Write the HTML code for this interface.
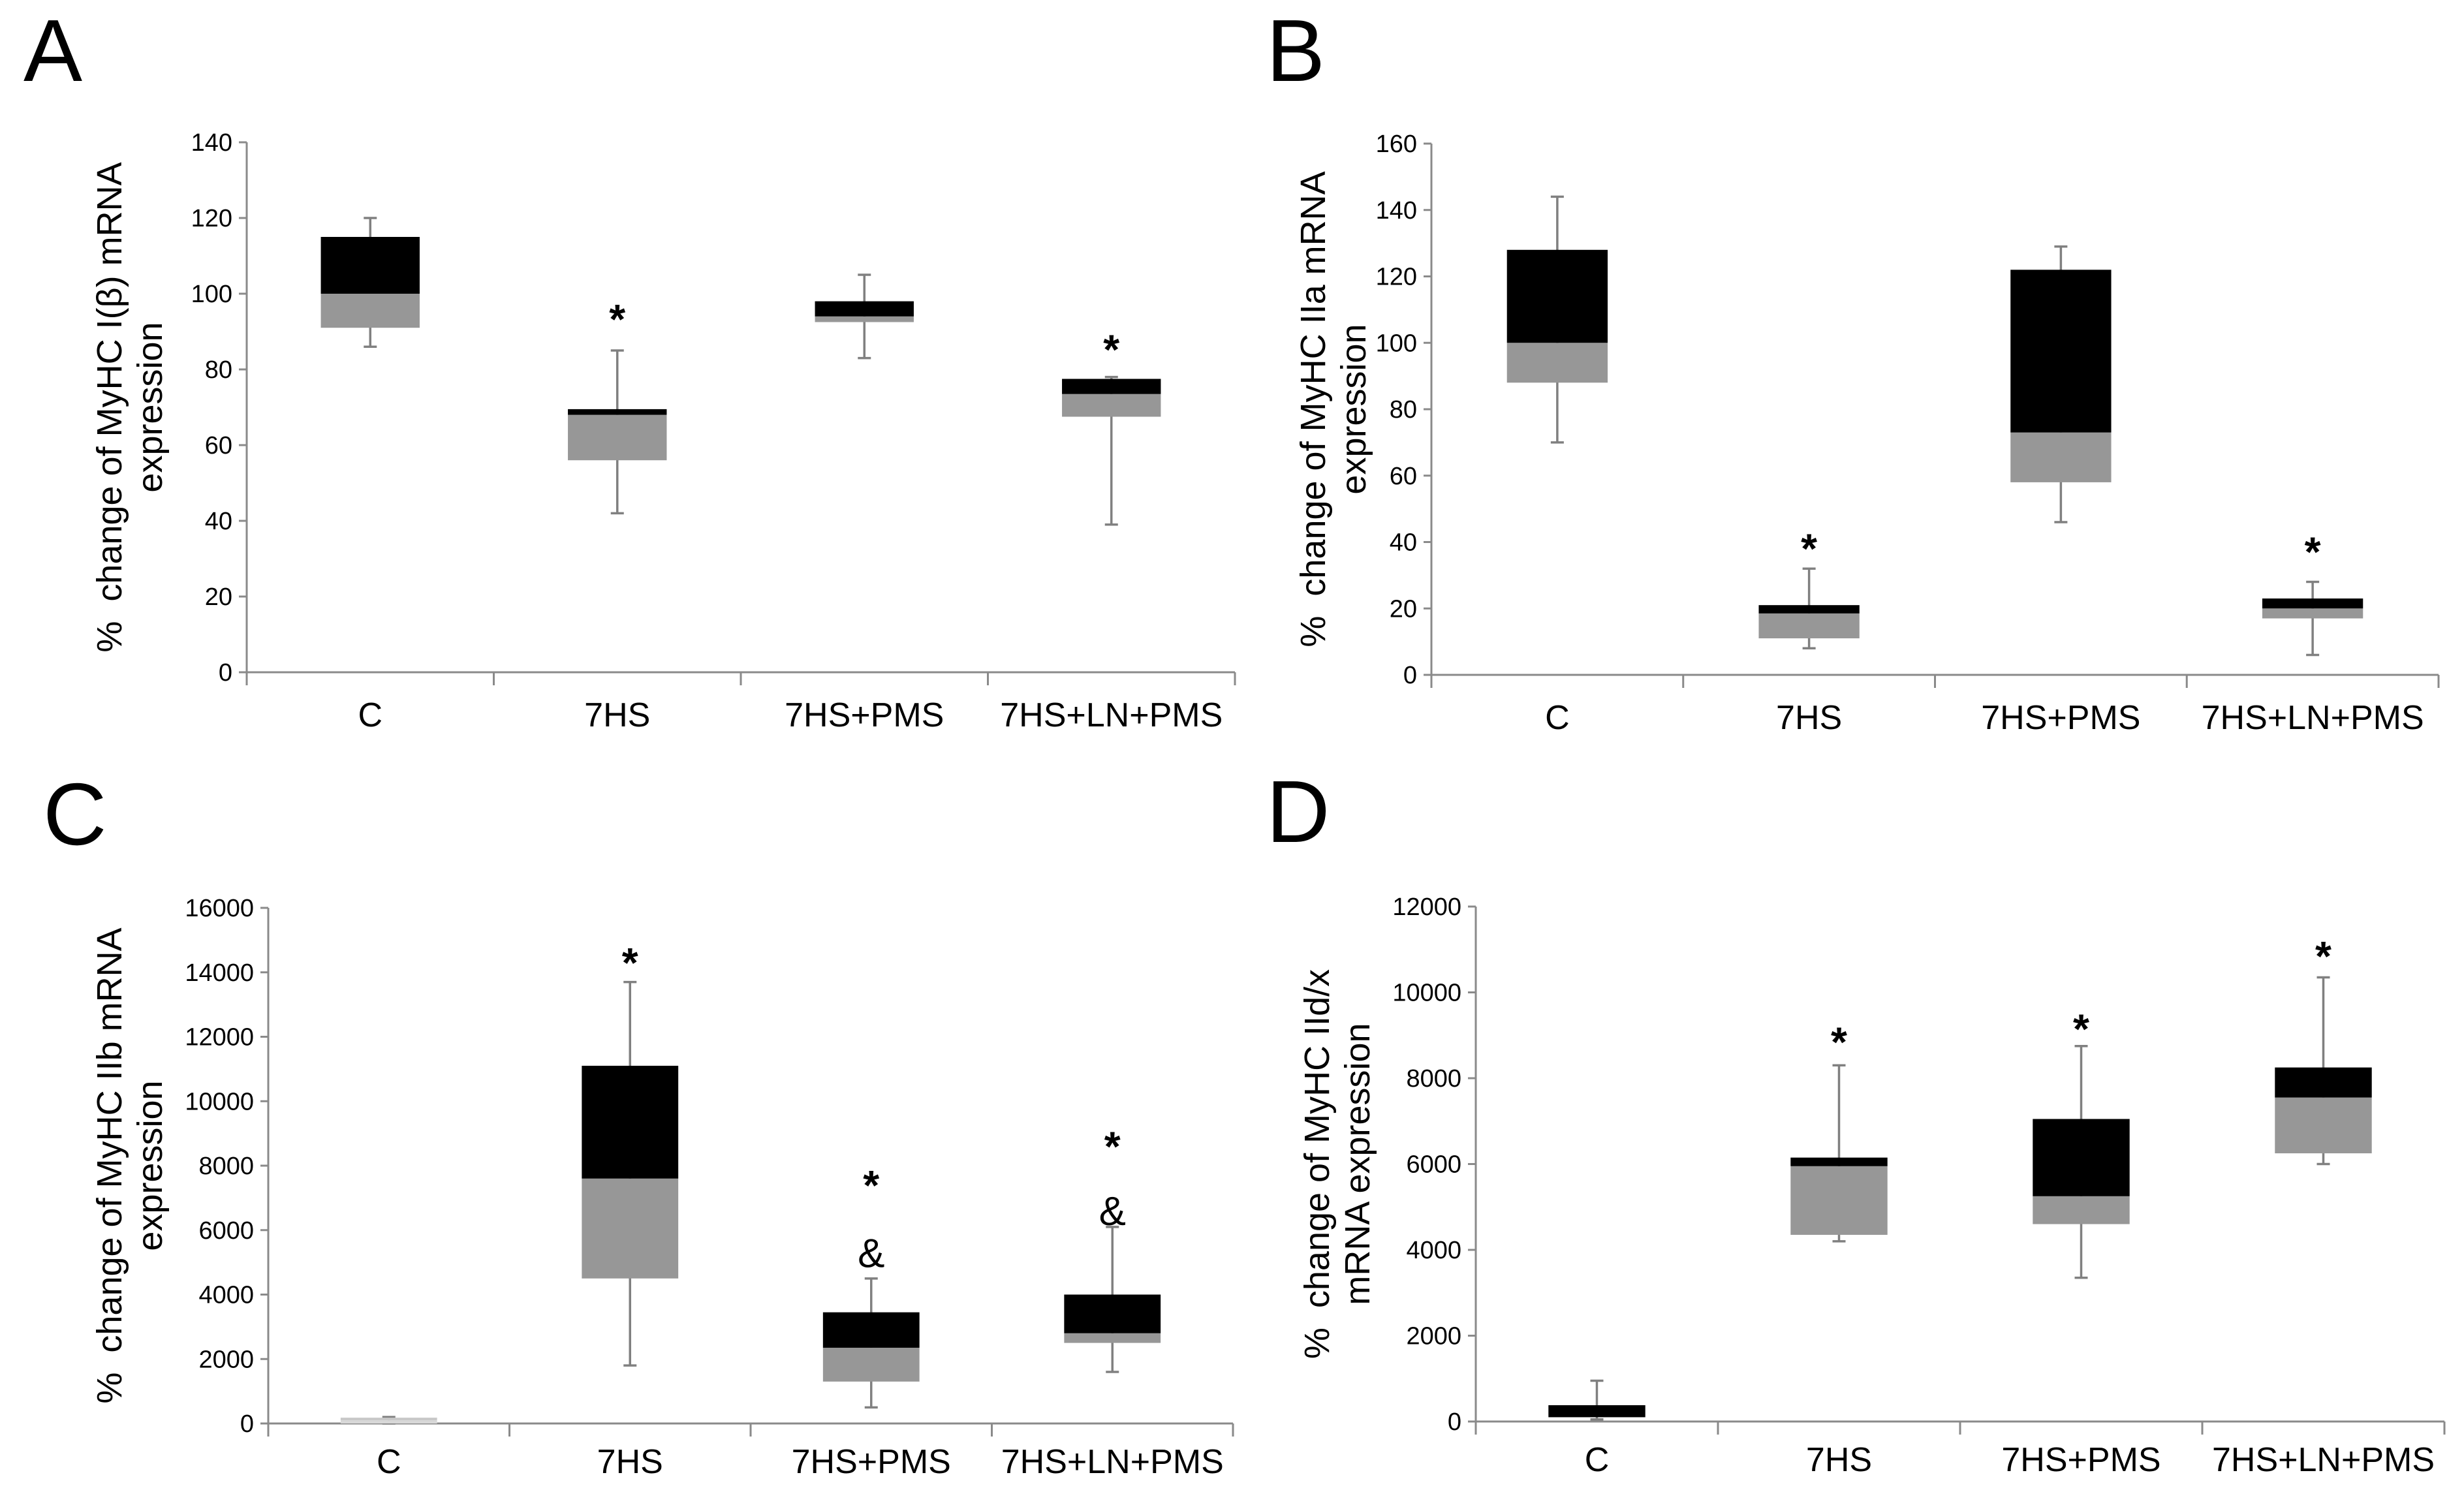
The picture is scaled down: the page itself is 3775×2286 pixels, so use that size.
<!DOCTYPE html>
<html><head><meta charset="utf-8"><style>
html,body{margin:0;padding:0;background:#fff;}
svg{display:block;font-family:"Liberation Sans",Arial,sans-serif;}
</style></head><body>
<svg id="fig" width="3775" height="2286" viewBox="0 0 3775 2286" xmlns="http://www.w3.org/2000/svg"></svg>
<script>
const categories = ["C","7HS","7HS+PMS","7HS+LN+PMS"];
// Panel A
const aTicks = [0,20,40,60,80,100,120,140];
const aWhiskLo = [86,42,83,39];
const aBoxLo = [91,56,92.5,67.5];
const aMedian = [100,68,94,73.5];
const aBoxHi = [115,69.5,98,77.5];
const aWhiskHi = [120,85,105,78];
const aMarks = [[],[["*",95]],[],[["*",87]]];
// Panel B
const bTicks = [0,20,40,60,80,100,120,140,160];
const bWhiskLo = [70,8,46,6];
const bBoxLo = [88,11,58,17];
const bMedian = [100,18.5,73,20];
const bBoxHi = [128,21,122,23];
const bWhiskHi = [144,32,129,28];
const bMarks = [[],[["*",40]],[],[["*",39]]];
// Panel C
const cTicks = [0,2000,4000,6000,8000,10000,12000,14000,16000];
const cWhiskLo = [0,1800,500,1600];
const cBoxLo = [0,4500,1300,2500];
const cMedian = [100,7600,2350,2800];
const cBoxHi = [180,11100,3450,4000];
const cWhiskHi = [200,13700,4500,6100];
const cMarks = [[],[["*",14500]],[["*",7600],["&",5300]],[["*",8800],["&",6600]]];
// Panel D
const dTicks = [0,2000,4000,6000,8000,10000,12000];
const dWhiskLo = [50,4200,3350,6000];
const dBoxLo = [100,4350,4600,6250];
const dMedian = [100,5950,5250,7550];
const dBoxHi = [380,6150,7050,8250];
const dWhiskHi = [950,8300,8750,10350];
const dMarks = [[],[["*",9000]],[["*",9300]],[["*",11000]]];

const NS = "http://www.w3.org/2000/svg";
const svg = document.getElementById("fig");
function mk(tag, attrs, parent, text){
  const e = document.createElementNS(NS, tag);
  for (const k in attrs) e.setAttribute(k, attrs[k]);
  if (text !== undefined) e.textContent = text;
  (parent||svg).appendChild(e);
  return e;
}

function panel(p){
  const g = mk("g", {});
  
  
  const ymax = p.ticks[p.ticks.length-1];
  const y = v => p.y0 - (v/ymax)*(p.y0 - p.yTop);
  const step = (p.x1 - p.x0)/categories.length;
  const cx = i => p.x0 + step*(i+0.5);
  const bw = step*0.4;

  const letter = mk("text", {x:p.lx, y:p.ly, "font-size":135, fill:"#000"}, g, p.id);
  
  

  const yax = mk("line", {x1:p.x0, y1:p.yTop, x2:p.x0, y2:p.y0, stroke:"#8a8a8a", "stroke-width":3}, g);
  
  
  p.ticks.forEach(t=>{
    const tk = mk("line", {x1:p.x0-12, y1:y(t), x2:p.x0, y2:y(t), stroke:"#8a8a8a", "stroke-width":3}, g);
    
    
    const tl = mk("text", {x:p.x0-22, y:y(t)+13, "font-size":38, "text-anchor":"end", fill:"#000"}, g, String(t));
    
    
  });
  const xax = mk("line", {x1:p.x0, y1:p.y0, x2:p.x1, y2:p.y0, stroke:"#8a8a8a", "stroke-width":3}, g);
  
  
  for (let i=0;i<=categories.length;i++){
    const xt = p.x0 + step*i;
    const tk = mk("line", {x1:xt, y1:p.y0, x2:xt, y2:p.y0+20, stroke:"#8a8a8a", "stroke-width":3}, g);
    
    
  }
  categories.forEach((c,i)=>{
    const tl = mk("text", {x:cx(i), y:p.y0+p.ly2, "font-size":52, "text-anchor":"middle", fill:"#000"}, g, c);
    
    
  });
  const tt = mk("text", {transform:`translate(${p.tx},${(p.yTop+p.y0)/2}) rotate(-90)`, "font-size":54, "text-anchor":"middle", fill:"#000"}, g);
  
  
  mk("tspan", {x:0, y:0}, tt, p.title[0]);
  mk("tspan", {x:0, y:62}, tt, p.title[1]);

  categories.forEach((c,i)=>{
    const bg = mk("g", {}, g);
    
    
    const x = cx(i);
    const w1 = mk("line", {x1:x, y1:y(p.wlo[i]), x2:x, y2:y(p.whi[i]), stroke:"#808080", "stroke-width":3.5}, bg);
    
    
    [p.wlo[i], p.whi[i]].forEach(v=>{
      const cap = mk("line", {x1:x-10, y1:y(v), x2:x+10, y2:y(v), stroke:"#808080", "stroke-width":3.5}, bg);
      
      
    });
    const lower = mk("rect", {x:x-bw/2, y:y(p.med[i]), width:bw, height:Math.max(0,y(p.blo[i])-y(p.med[i])), fill:(p.lightFirst && i===0)?"#d8d8d8":"#979797"}, bg);
    
    
    const upper = mk("rect", {x:x-bw/2, y:y(p.bhi[i]), width:bw, height:Math.max(0,y(p.med[i])-y(p.bhi[i])), fill:(p.lightFirst && i===0)?"#c8c8c8":"#000"}, bg);
    
    
    p.marks[i].forEach(m=>{
      const s = mk("text", {x:x, y:y(m[1])+(m[0]==="*"?32:22), "font-size":m[0]==="*"?64:62, "font-weight":m[0]==="*"?"bold":"normal", "text-anchor":"middle", fill:"#000"}, bg, m[0]);
      
      
    });
  });
}

panel({id:"A", lx:36, ly:124, x0:378, x1:1892, yTop:218, y0:1030, tx:186, ly2:83, ticks:aTicks,
  wlo:aWhiskLo, blo:aBoxLo, med:aMedian, bhi:aBoxHi, whi:aWhiskHi, marks:aMarks,
  title:["%\u00a0\u00a0change of MyHC I(β) mRNA","expression"]});
panel({id:"B", lx:1940, ly:124, x0:2193, x1:3736, yTop:220, y0:1034, tx:2030, ly2:83, ticks:bTicks,
  wlo:bWhiskLo, blo:bBoxLo, med:bMedian, bhi:bBoxHi, whi:bWhiskHi, marks:bMarks,
  title:["%\u00a0\u00a0change of MyHC IIa mRNA","expression"]});
panel({id:"C", lx:66, ly:1294, x0:411, x1:1889, yTop:1391, y0:2181, tx:186, ly2:76, ticks:cTicks,
  wlo:cWhiskLo, blo:cBoxLo, med:cMedian, bhi:cBoxHi, whi:cWhiskHi, marks:cMarks, lightFirst:true,
  title:["%\u00a0\u00a0change of MyHC IIb mRNA","expression"]});
panel({id:"D", lx:1940, ly:1290, x0:2261, x1:3745, yTop:1389, y0:2178, tx:2036, ly2:76, ticks:dTicks,
  wlo:dWhiskLo, blo:dBoxLo, med:dMedian, bhi:dBoxHi, whi:dWhiskHi, marks:dMarks,
  title:["%\u00a0\u00a0change of MyHC IId/x","mRNA expression"]});
</script>
</body></html>
